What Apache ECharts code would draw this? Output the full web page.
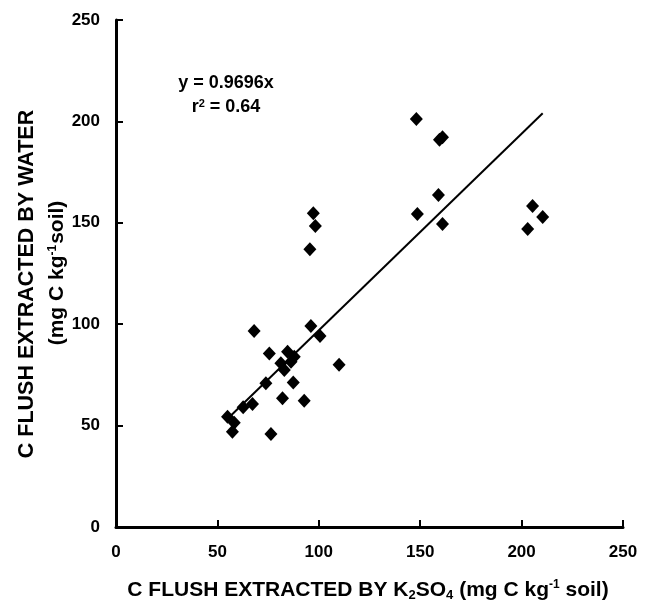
<!DOCTYPE html>
<html>
<head>
<meta charset="utf-8">
<script src="https://cdn.jsdelivr.net/npm/echarts@6/dist/echarts.min.js"></script>
<style>
html,body{margin:0;padding:0;background:#fff;}
#chart{width:648px;height:605px;}
</style>
</head>
<body>
<div id="chart"></div>
<script>
// K2SO4 extracted C flush (x) and water extracted C flush (y), mg C kg-1 soil
var xK2SO4 = [148.1, 159.5, 161.0, 159.0, 148.6, 161.0, 205.4, 210.4, 203.0,
  97.3, 98.3, 95.6, 96.1, 100.6, 68.1, 110.0,
  75.6, 84.6, 87.9, 81.3, 86.3, 83.0, 73.9, 87.4, 82.1, 92.8, 67.3, 62.7, 55.0, 58.3, 57.4, 76.4];
var yWater = [201.2, 191.0, 192.2, 163.7, 154.3, 149.4, 158.3, 152.9, 147.0,
  154.7, 148.4, 137.0, 99.1, 94.2, 96.6, 80.0,
  85.6, 86.4, 84.0, 80.7, 81.5, 77.4, 70.9, 71.3, 63.5, 62.3, 60.7, 59.0, 54.4, 51.4, 47.0, 45.9];
var slope = 0.9696;
var fitRange = [56.8, 210.4];
var tickLabels = [0, 50, 100, 150, 200, 250];

var pts = xK2SO4.map(function (x, i) { return [x, yWater[i]]; });
var fitLine = fitRange.map(function (x) { return [x, slope * x]; });

var font = 'Liberation Sans, Arial, sans-serif';
var fmt = function (v) { return tickLabels.indexOf(v) >= 0 ? String(v) : ''; };
var chart = echarts.init(document.getElementById('chart'));
chart.setOption({
  animation: false,
  backgroundColor: '#fff',
  grid: { left: 116, right: 25, top: 20, bottom: 78, outerBoundsMode: 'none', containLabel: false },
  xAxis: {
    type: 'value', min: 0, max: 250, interval: 50,
    axisLine: { lineStyle: { color: '#000', width: 3 } },
    axisTick: { inside: true, length: 7, lineStyle: { color: '#000', width: 2 } },
    splitLine: { show: false },
    axisLabel: { color: '#000', fontFamily: font, fontWeight: 'bold', fontSize: 17, margin: 17, formatter: fmt }
  },
  yAxis: {
    type: 'value', min: 0, max: 250, interval: 50,
    axisLine: { lineStyle: { color: '#000', width: 3 } },
    axisTick: { inside: true, length: 7, lineStyle: { color: '#000', width: 2 } },
    splitLine: { show: false },
    axisLabel: { color: '#000', fontFamily: font, fontWeight: 'bold', fontSize: 17, margin: 16, formatter: fmt }
  },
  graphic: [
    { type: 'text', x: 226, y: 83, style: { text: 'y = 0.9696x', font: 'bold 18px ' + font, fill: '#000', align: 'center', verticalAlign: 'middle' } },
    { type: 'text', x: 226, y: 107, style: {
      text: '{b|r}{sup|2}{b| = 0.64}', align: 'center', verticalAlign: 'middle',
      rich: {
        b: { font: 'bold 18px ' + font, fill: '#000' },
        sup: { font: 'bold 11px ' + font, fill: '#000', verticalAlign: 'top', padding: [0, 0, 7, 0] }
      } } },
    { type: 'text', x: 368, y: 590, style: {
      text: '{b|C FLUSH EXTRACTED BY K}{sub|2}{b|SO}{sub|4}{b| (mg C kg}{sup|-1}{b| soil)}',
      align: 'center', verticalAlign: 'middle',
      rich: {
        b: { font: 'bold 21px ' + font, fill: '#000' },
        sub: { font: 'bold 13px ' + font, fill: '#000', verticalAlign: 'bottom', padding: [10, 0, 0, 0] },
        sup: { font: 'bold 12px ' + font, fill: '#000', verticalAlign: 'top', padding: [0, 0, 9, 0] }
      } } },
    { type: 'text', x: 27, y: 284, rotation: Math.PI / 2, style: {
      text: 'C FLUSH EXTRACTED BY WATER', font: 'bold 21.5px ' + font, fill: '#000', align: 'center', verticalAlign: 'middle' } },
    { type: 'text', x: 57, y: 273, rotation: Math.PI / 2, style: {
      text: '{b|(mg C kg}{sup|-1}{b|soil)}', align: 'center', verticalAlign: 'middle',
      rich: {
        b: { font: 'bold 21px ' + font, fill: '#000' },
        sup: { font: 'bold 12px ' + font, fill: '#000', verticalAlign: 'top', padding: [0, 1, 9, 0] }
      } } }
  ],
  series: [
    {
      type: 'line', data: fitLine, symbol: 'none',
      lineStyle: { color: '#000', width: 2 }, silent: true, z: 1
    },
    {
      type: 'scatter', data: pts, symbol: 'diamond', symbolSize: [13, 14],
      itemStyle: { color: '#000', opacity: 1 }, z: 2
    }
  ]
});
</script>
</body>
</html>
